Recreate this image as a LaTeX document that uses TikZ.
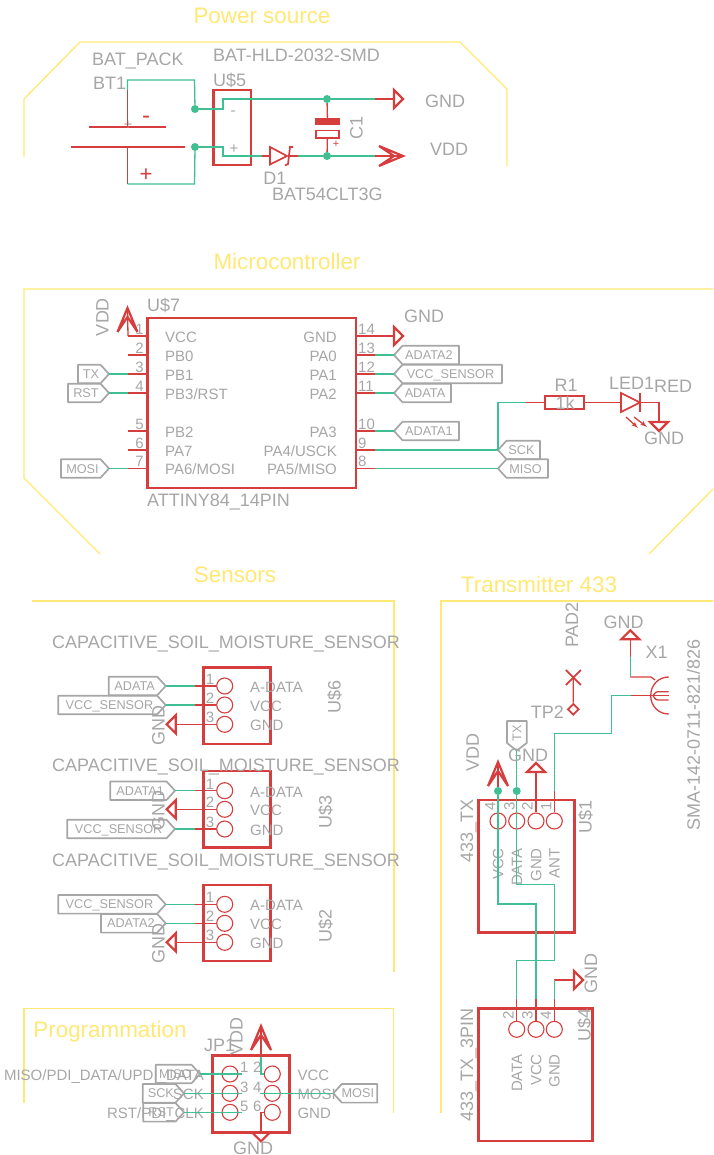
\documentclass[tikz,border=0pt]{standalone}
\usepackage{fontspec}
\setmainfont{Liberation Sans}
\usetikzlibrary{arrows}
\usetikzlibrary{calc}
\definecolor{schred}{HTML}{D63D3D}
\definecolor{schgreen}{HTML}{3FBF92}
\definecolor{schgray}{HTML}{A6A6A6}
\definecolor{framegold}{HTML}{FFE873}
\tikzset{
  redwire/.style={draw=schred,line width=1.3pt},
  greenwire/.style={draw=schgreen,line width=1.3pt},
  sym/.style={draw=schred,line width=2.2pt,line join=miter},
  frameline/.style={draw=framegold,line width=1.3pt},
  flagline/.style={draw=schgray,line width=1.7pt,line join=round},
  chip/.style={draw=schred,line width=2.6pt,inner sep=0pt},
  pincirc/.style={draw=schred,line width=1.1pt,circle,inner sep=0pt,minimum size=16pt},
  junction/.style={fill=schgreen,circle,inner sep=0pt,minimum size=8pt},
  titletext/.style={text=framegold,font=\fontsize{22.4}{22.4}\selectfont,inner sep=0pt,text height=16pt,text depth=0pt},
  lblbig/.style={text=schgray,font=\fontsize{18}{18}\selectfont,inner sep=0pt,text height=13pt,text depth=0pt},
  lblpin/.style={text=schgray,font=\fontsize{15}{15}\selectfont,inner sep=0pt,text height=10.8pt,text depth=0pt},
  flagtext/.style={text=schgray,font=\fontsize{12.7}{12.7}\selectfont,inner sep=0pt,text height=9.1pt,text depth=0pt},
}
% name, x back, x tip, y, text
\newcommand{\flagright}[5]{
  \draw[flagline] (#2,#4-9.3) -- (#3-8.5,#4-9.3) -- (#3,#4) -- (#3-8.5,#4+9.3) -- (#2,#4+9.3) -- cycle;
  \node[flagtext] (#1) at ({(#2+#3-5)/2},#4) {#5};
  \coordinate (#1tip) at (#3,#4);
}
\newcommand{\flagleft}[5]{
  \draw[flagline] (#2,#4-9.3) -- (#3+8.5,#4-9.3) -- (#3,#4) -- (#3+8.5,#4+9.3) -- (#2,#4+9.3) -- cycle;
  \node[flagtext] (#1) at ({(#2+#3+5)/2},#4) {#5};
  \coordinate (#1tip) at (#3,#4);
}
% name, x, y, angle: 0 points down, 90 right, -90 left, 180 up
\newcommand{\gndsym}[4]{
  \coordinate (#1) at (#2,#3);
  \draw[sym,shift={(#2,#3)},rotate=#4] (-9,0) -- (9,0) -- (0,9) -- cycle;
}
\newcommand{\vddsym}[4]{
  \coordinate (#1) at (#2,#3);
  \draw[sym,shift={(#2,#3)},rotate=#4] (-10,0) -- (0,24) -- (10,0) -- (0,15) -- cycle;
}
\newcommand{\soilsensor}[6]{
  \node[chip,minimum width=67.4pt,minimum height=76.3pt] (#1) at (237,#2) {};
  \node[pincirc] (#1a) at (224.7,#3) {};
  \node[pincirc] (#1b) at (224.7,#4) {};
  \node[pincirc] (#1c) at (224.7,#5) {};
  \coordinate (#1sa) at (195,#3);
  \coordinate (#1sb) at (195,#4);
  \coordinate (#1sc) at (195,#5);
  \draw[redwire] (#1sa) -- (#1a);
  \draw[redwire] (#1sb) -- (#1b);
  \draw[redwire] (#1sc) -- (#1c);
  \node[lblpin] (#1na) at (210,#3-7) {1};
  \node[lblpin] (#1nb) at (210,#4-7) {2};
  \node[lblpin] (#1nc) at (210,#5-7) {3};
  \node[lblpin,anchor=west] (#1la) at (250,#3+1) {A-DATA};
  \node[lblpin,anchor=west] (#1lb) at (250,#4+1) {VCC};
  \node[lblpin,anchor=west] (#1lc) at (250,#5+1) {GND};
  \node[lblbig,anchor=west] (#1val) at (52,#6) {CAPACITIVE\_SOIL\_MOISTURE\_SENSOR};
}

\begin{document}
\begin{tikzpicture}[x=1pt,y=-1pt,>=latex']
  \useasboundingbox (0,0) rectangle (713,1155);

  % power source
  \node[titletext] (powertitle) at (262,16) {Power source};
  \draw[frameline] (24,157) -- (24,99) -- (80,42) -- (460,42) -- (507,89) -- (507,166);
  \node[lblbig,anchor=west] (batname) at (92,59) {BAT\_PACK};
  \node[lblbig,anchor=west] (bt1) at (93,83) {BT1};
  \node[lblbig,anchor=west] (holdname) at (213,55) {BAT-HLD-2032-SMD};
  \node[lblbig,anchor=west] (u5name) at (213,80) {U\$5};
  \node[chip,minimum width=37.5pt,minimum height=75pt] (u5) at (232.2,127.5) {};
  \node[lblpin] (u5minus) at (233,110) {-};
  \node[lblpin] (u5plus) at (234,148) {+};
  \coordinate (plateneg) at (127.5,127);
  \coordinate (platepos) at (127.5,147);
  \coordinate (batbend) at (127.5,90);
  \coordinate (batbot) at (127.5,184);
  \node[junction] (jneg) at (195,109) {};
  \node[junction] (jpos) at (195,147) {};
  \node[junction] (jgnd) at (327,99) {};
  \node[junction] (jvdd) at (327,156) {};
  \draw[schred,line width=1.8pt] (89,127) -- (166,127);
  \draw[schred,line width=1.8pt] (71,147) -- (185,147);
  \node[lblpin] (platesmall) at (128,124) {+};
  \node[text=schred,font=\fontsize{24}{24}\selectfont,inner sep=0pt] (batminus) at (146,120) {-};
  \node[text=schred,font=\fontsize{22}{22}\selectfont,inner sep=0pt] (batplus) at (146,175) {+};
  \draw[redwire] (plateneg) -- (batbend);
  \draw[greenwire] (batbend) -- (127.5,80) -- (194.5,80) -- (jneg);
  \draw[redwire] (platepos) -- (batbot);
  \draw[greenwire] (batbot) -- (194.5,184) -- (jpos);
  \gndsym{gndpow}{394}{99}{90}
  \vddsym{vddpow}{379}{156}{90}
  \coordinate (gndstub) at (375,99);
  \coordinate (vddstub) at (375,156);
  \coordinate (d1a) at (262,156);
  \coordinate (d1k) at (298,156);
  \draw[greenwire] (jneg) -- (223,109) -- (223,99) -- (jgnd) -- (gndstub);
  \draw[redwire] (gndstub) -- (gndpow);
  \draw[greenwire] (jpos) -- (223,147) -- (223,156) -- (d1a);
  \draw[redwire] (d1a) -- (270,156);
  \draw[redwire,line width=1.7pt] (270,147) -- (270,164.5) -- (287,156) -- cycle;
  \draw[redwire,line width=1.7pt] (293,147) -- (290,147) -- (288,164) -- (285,165.5);
  \draw[redwire] (288,156) -- (d1k);
  \draw[greenwire] (d1k) -- (jvdd) -- (vddstub);
  \draw[redwire] (vddstub) -- (403,156);
  \node[fill=schred,inner sep=0pt,minimum width=25pt,minimum height=6.5pt] (c1plate) at (327.5,121.7) {};
  \node[draw=schred,line width=1.8pt,inner sep=0pt,minimum width=23pt,minimum height=7.5pt] (c1box) at (327.5,134.2) {};
  \draw[redwire] (jgnd) -- (c1plate);
  \draw[redwire] (c1box) -- (jvdd);
  \node[text=schred,font=\fontsize{11}{11}\selectfont,inner sep=0pt] (c1plus) at (336,144) {+};
  \node[lblbig,rotate=90] (c1name) at (356,128) {C1};
  \node[lblbig] (gndpowtext) at (445,101) {GND};
  \node[lblbig] (vddpowtext) at (449,149) {VDD};
  \node[lblbig] (d1name) at (275,178) {D1};
  \node[lblbig,anchor=west] (d1value) at (272,194) {BAT54CLT3G};

  % microcontroller
  \node[titletext] (mcutitle) at (287,262) {Microcontroller};
  \draw[frameline] (713,289) -- (24,289) -- (24,478) -- (100,554);
  \draw[frameline] (713,489) -- (649,554);
  \node[chip,minimum width=208.5pt,minimum height=170pt] (u7) at (251.7,403) {};
  \node[lblbig,anchor=west] (u7name) at (147,305) {U\$7};
  \node[lblbig,anchor=west] (u7value) at (147,500) {ATTINY84\_14PIN};
  \foreach \num/\pinlab/\yy in {1/VCC/336,2/PB0/355,3/PB1/374,4/{PB3/RST}/393,5/PB2/431,6/PA7/450,7/{PA6/MOSI}/468.5}{
    \coordinate (pl\num) at (128,\yy);
    \draw[redwire] (pl\num) -- (pl\num -| u7.west);
    \node[lblpin,anchor=east] (pln\num) at (144,\yy-7) {\num};
    \node[lblpin,anchor=west] (pll\num) at (165,\yy+1) {\pinlab};
  }
  \foreach \num/\pinlab/\yy in {14/GND/336,13/PA0/355,12/PA1/374,11/PA2/393,10/PA3/431,9/{PA4/USCK}/450,8/{PA5/MISO}/468.5}{
    \coordinate (pr\num) at (375,\yy);
    \draw[redwire] (pr\num -| u7.east) -- (pr\num);
    \node[lblpin,anchor=west] (prn\num) at (358,\yy-7) {\num};
    \node[lblpin,anchor=east] (prl\num) at (337,\yy+1) {\pinlab};
  }
  \vddsym{vddmcu}{127.5}{332}{180}
  \draw[redwire] (pl1) -- (127.5,308);
  \node[lblbig,rotate=90] (vddmcutext) at (102,317) {VDD};
  \flagright{txflag}{78}{109}{374}{TX}
  \flagright{rstflag}{68}{109}{393}{RST}
  \flagright{mosiflag}{61}{109}{468.5}{MOSI}
  \draw[greenwire] (txflagtip) -- (pl3);
  \draw[greenwire] (rstflagtip) -- (pl4);
  \draw[greenwire] (mosiflagtip) -- (pl7);
  \gndsym{gndmcu}{394}{336}{90}
  \draw[redwire] (pr14) -- (gndmcu);
  \node[lblbig,anchor=west] (gndmcutext) at (404,316) {GND};
  \flagleft{adatatwoflag}{459}{394}{355}{ADATA2}
  \flagleft{vccsenflag}{502}{394}{374}{VCC\_SENSOR}
  \flagleft{adataflag}{451}{394}{393}{ADATA}
  \flagleft{adataoneflag}{459}{394}{431}{ADATA1}
  \flagleft{sckflag}{540}{498}{450}{SCK}
  \flagleft{misoflag}{548}{498}{468.5}{MISO}
  \draw[greenwire] (pr13) -- (adatatwoflagtip);
  \draw[greenwire] (pr12) -- (vccsenflagtip);
  \draw[greenwire] (pr11) -- (adataflagtip);
  \draw[greenwire] (pr10) -- (adataoneflagtip);
  \draw[greenwire] (pr9) -- (sckflagtip);
  \draw[greenwire] (pr8) -- (misoflagtip);
  \node[draw=schred,line width=1.8pt,inner sep=0pt,minimum width=39pt,minimum height=13pt] (r1) at (564.5,402.5) {};
  \node[lblbig] (r1value) at (565,402.5) {1k};
  \node[lblbig] (r1name) at (566,385) {R1};
  \coordinate (r1stub) at (526,402.5);
  \draw[greenwire] (sckflagtip) -- (498,402.5) -- (r1stub);
  \draw[redwire] (r1stub) -- (r1);
  \coordinate (ledin) at (621,402.5);
  \coordinate (ledout) at (640,402.5);
  \draw[redwire] (r1) -- (ledin);
  \draw[redwire,line width=1.7pt] (621,393) -- (621,412) -- (640,402.5) -- cycle;
  \draw[redwire,line width=1.7pt] (640,393) -- (640,412);
  \gndsym{gndled}{659}{422}{0}
  \draw[redwire] (ledout) -- (659,402.5) -- (gndled);
  \draw[redwire,->] (626,417) -- (638,428);
  \draw[redwire,->] (634,417) -- (647,427);
  \node[lblbig,anchor=west] (ledname) at (609,383) {LED1};
  \node[lblbig,anchor=west] (ledvalue) at (654,386) {RED};
  \node[lblbig] (gndledtext) at (664,438) {GND};

  % sensors
  \node[titletext] (sensortitle) at (235,574) {Sensors};
  \draw[frameline] (32,601) -- (394,601) -- (394,972);
  \soilsensor{usix}{705.8}{686}{705}{724.3}{642}
  \soilsensor{uthree}{809.2}{790.7}{809.3}{829}{765}
  \soilsensor{utwo}{923}{904.3}{923.3}{942.3}{860}
  \node[lblbig,rotate=90] (usixname) at (334,697) {U\$6};
  \node[lblbig,rotate=90] (uthreename) at (325,812) {U\$3};
  \node[lblbig,rotate=90] (utwoname) at (325,926) {U\$2};
  \flagright{adatasix}{108.7}{165.7}{686}{ADATA}
  \flagright{vccsix}{58.3}{165.7}{705}{VCC\_SENSOR}
  \draw[greenwire] (adatasixtip) -- (usixsa);
  \draw[greenwire] (vccsixtip) -- (usixsb);
  \gndsym{gndsix}{175.7}{724.3}{-90}
  \draw[redwire] (gndsix) -- (usixsc);
  \node[lblbig,rotate=90] (gndsixtext) at (158,725) {GND};
  \flagright{adatathree}{110.3}{175}{790.7}{ADATA1}
  \flagright{vccthree}{67.3}{175}{829}{VCC\_SENSOR}
  \draw[greenwire] (adatathreetip) -- (uthreesa);
  \draw[greenwire] (vccthreetip) -- (uthreesc);
  \gndsym{gndthree}{175.7}{809.3}{-90}
  \draw[redwire] (gndthree) -- (uthreesb);
  \node[lblbig,rotate=90] (gndthreetext) at (158,810) {GND};
  \flagright{vcctwo}{58.3}{165.7}{904.3}{VCC\_SENSOR}
  \flagright{adatatwo}{101}{165.7}{923.3}{ADATA2}
  \draw[greenwire] (vcctwotip) -- (utwosa);
  \draw[greenwire] (adatatwotip) -- (utwosb);
  \gndsym{gndtwo}{175.7}{942.3}{-90}
  \draw[redwire] (gndtwo) -- (utwosc);
  \node[lblbig,rotate=90] (gndtwotext) at (158,943) {GND};

  % transmitter 433
  \node[titletext] (txtitle) at (539,584) {Transmitter 433};
  \draw[frameline] (713,601) -- (441,601) -- (441,1113);
  \node[chip,minimum width=96pt,minimum height=132.7pt] (u1) at (526.3,866.3) {};
  \node[lblbig,rotate=90] (u1name) at (585,816.7) {U\$1};
  \node[lblbig,rotate=90] (u1value) at (466.7,830.7) {433\_TX};
  \foreach \num/\pinlab/\xx/\nx in {4/VCC/498/490,3/DATA/516.7/509.3,2/GND/536/527.3,1/ANT/554.3/546}{
    \node[pincirc] (up\num) at (\xx,821) {};
    \node[lblpin,rotate=90] (un\num) at (\nx,806.7) {\num};
    \node[lblpin,rotate=90,anchor=east] (ul\num) at (\xx,848) {\pinlab};
  }
  \node[chip,minimum width=114.4pt,minimum height=132.3pt] (u4) at (535.5,1074.8) {};
  \node[lblbig,rotate=90] (u4name) at (584,1025) {U\$4};
  \node[lblbig,rotate=90] (u4value) at (466.7,1065) {433\_TX\_3PIN};
  \foreach \num/\pinlab/\xx/\nx in {2/DATA/516.7/508.3,3/VCC/536/527.3,4/GND/554.3/545.7}{
    \node[pincirc] (vp\num) at (\xx,1029.3) {};
    \node[lblpin,rotate=90] (vn\num) at (\nx,1015) {\num};
    \node[lblpin,rotate=90,anchor=east] (vl\num) at (\xx,1054) {\pinlab};
    \coordinate (vs\num) at (\xx,999);
    \draw[redwire] (vs\num) -- (vp\num);
  }
  \node[junction] (jtxvcc) at (498,791) {};
  \node[junction] (jtxdata) at (516.7,791) {};
  \vddsym{vddtx}{498}{786}{180}
  \draw[redwire] (498,762) -- (jtxvcc);
  \node[lblbig,rotate=90] (vddtxtext) at (472.3,752.7) {VDD};
  \draw[flagline] (507,721) -- (526.7,721) -- (526.7,743) -- (516.7,750.7) -- (507,743) -- cycle;
  \node[flagtext,rotate=90] (txflagtwo) at (516.7,733) {TX};
  \coordinate (txflagtwotip) at (516.7,750.7);
  \draw[greenwire] (txflagtwotip) -- (jtxdata);
  \draw[greenwire] (jtxvcc) -- (498,904) -- (536,904) -- (vs3);
  \draw[greenwire] (jtxdata) -- (516.7,884.3) -- (554.3,884.3) -- (554.3,960.7) -- (516.7,960.7) -- (vs2);
  \gndsym{gndtxpin}{536}{772}{180}
  \draw[redwire] (gndtxpin) -- (up2);
  \node[lblbig] (gndtxtext) at (528,755) {GND};
  \coordinate (antstub) at (554.3,791);
  \coordinate (smain) at (630.7,695.7);
  \draw[redwire] (antstub) -- (up1);
  \draw[greenwire] (antstub) -- (554.3,733.3) -- (611.7,733.3) -- (611.7,695.7) -- (smain);
  \draw[redwire] (smain) -- (668.7,695.7);
  \draw[redwire] (668.7,677) .. controls (658.5,677) and (650.7,685) .. (650.7,695.7) .. controls (650.7,706) and (658.5,714) .. (668.7,714);
  \draw[redwire] (668.7,691.7) -- (660,691.7) .. controls (656,691.7) .. (653,695.7) .. controls (656,700) .. (660,700) -- (668.7,700);
  \gndsym{gndsma}{630.3}{639.3}{180}
  \coordinate (smagndstub) at (630.3,657);
  \coordinate (smagndbend) at (630.3,677);
  \draw[redwire] (gndsma) -- (smagndstub);
  \draw[greenwire] (smagndstub) -- (smagndbend);
  \draw[redwire] (smagndbend) -- (651,677) -- (655,680);
  \node[lblbig] (gndsmatext) at (623.7,622) {GND};
  \node[lblbig] (x1name) at (656.7,651.7) {X1};
  \node[lblbig,rotate=90] (x1value) at (693.3,735) {SMA-142-0711-821/826};
  \node[lblbig,rotate=90] (padname) at (571.7,625) {PAD2};
  \node[lblbig] (tpname) at (547.3,712.3) {TP2};
  \coordinate (padcross) at (573.3,677.7);
  \node[draw=schred,line width=1.8pt,shape=rectangle,rotate=45,inner sep=0pt,minimum size=7.5pt] (tpdiamond) at (573.3,709.3) {};
  \draw[redwire,line width=1.7pt] (565.8,670) -- (580.8,685);
  \draw[redwire,line width=1.7pt] (580.8,670) -- (565.8,685);
  \draw[redwire] (padcross) -- (tpdiamond);
  \gndsym{gndfour}{574}{980}{90}
  \draw[redwire] (vs4 |- gndfour) -- (gndfour);
  \draw[greenwire] (vs4) -- (vs4 |- gndfour);
  \node[lblbig,rotate=90] (gndfourtext) at (590.7,973) {GND};

  % programmation
  \draw[frameline] (24,1103) -- (24,1008.7) -- (393.5,1008.7) -- (393.5,1113);
  \node[titletext] (progtitle) at (110,1029) {Programmation};
  \node[chip,minimum width=76.6pt,minimum height=76.6pt] (jp1) at (251,1094) {};
  \node[lblbig,anchor=west] (jpname) at (204,1045) {JP1};
  \node[lblbig,rotate=90] (vddjptext) at (236,1036.7) {VDD};
  \foreach \num/\xx/\yy/\nx in {1/230/1074/244.3,3/230/1093.3/244.3,5/230/1112.3/244.3,2/272.3/1074/257.3,4/272.3/1093.3/257.3,6/272.3/1112.3/257.3}{
    \node[pincirc] (jc\num) at (\xx,\yy) {};
    \node[lblpin] (jn\num) at (\nx,\yy-6.5) {\num};
  }
  \node[lblpin,anchor=east] (jl1) at (204,1075) {MISO/PDI\_DATA/UPDI\_DATA};
  \node[lblpin,anchor=east] (jl3) at (204,1094) {SCK};
  \node[lblpin,anchor=east] (jl5) at (204,1113) {RST/PDI\_CLK};
  \node[lblpin,anchor=west] (jl2) at (297.3,1075) {VCC};
  \node[lblpin,anchor=west] (jl4) at (297.3,1094) {MOSI};
  \node[lblpin,anchor=west] (jl6) at (297.3,1113) {GND};
  \flagright{misojp}{155.7}{200}{1074}{MISO}
  \flagright{sckjp}{142.7}{184}{1093.3}{SCK}
  \flagright{rstjp}{143.3}{184}{1112.3}{RST}
  \flagleft{mosijp}{377.3}{333.3}{1093.3}{MOSI}
  \coordinate (jsa) at (241.7,1074);
  \coordinate (jsb) at (241.7,1093.3);
  \coordinate (jsc) at (241.7,1112.3);
  \coordinate (jsd) at (260,1093.3);
  \draw[greenwire] (misojptip) -- (jsa);
  \draw[greenwire] (sckjptip) -- (jsb);
  \draw[greenwire] (rstjptip) -- (jsc);
  \draw[greenwire] (jsd) -- (mosijptip);
  \vddsym{vddjp}{261}{1050}{180}
  \coordinate (vddjpstub) at (261,1056.7);
  \draw[redwire] (261,1028.3) -- (vddjpstub);
  \draw[greenwire] (vddjpstub) -- (261,1074) -- (jc2);
  \gndsym{gndjp}{261}{1132.3}{0}
  \draw[redwire] (jc6) -- (261,1112.3) -- (gndjp);
  \node[lblbig] (gndjptext) at (253,1147.5) {GND};
\end{tikzpicture}
\end{document}
